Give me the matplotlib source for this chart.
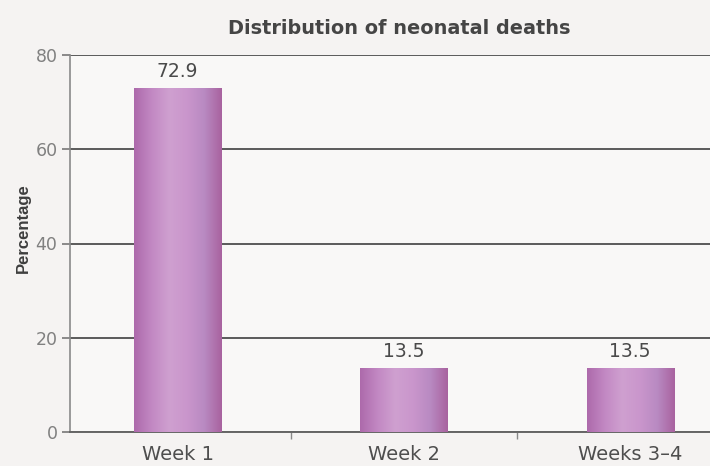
import numpy as np
import matplotlib
matplotlib.use("Agg")
import matplotlib.pyplot as plt
from matplotlib.colors import LinearSegmentedColormap
from matplotlib.ticker import FixedLocator

categories = ["Week 1", "Week 2", "Weeks 3\u20134"]
values = [72.9, 13.5, 13.5]
yticks = [0, 20, 40, 60, 80]
title = "Distribution of neonatal deaths"
ylabel = "Percentage"

plt.rcParams["font.family"] = ["DejaVu Sans"]

W, H = 710, 466
fig = plt.figure(figsize=(W / 100, H / 100), dpi=100)
fig.patch.set_facecolor("#f5f3f2")

left, right, bottom, top = 70, 710, 432, 55
ax = fig.add_axes([left / W, (H - bottom) / H, (right - left) / W, (bottom - top) / H])
ax.set_facecolor("#f9f8f7")

x = np.arange(len(categories))
bars = ax.bar(x, values, width=0.385, color="#c088c2", zorder=3, linewidth=0)

# soft cylinder-like shading across each bar
shade = LinearSegmentedColormap.from_list(
    "shade",
    ["#ad6aab", "#c288c3", "#cfa0d0", "#ca96cc", "#b98ac2", "#a8629f"],
)
grad = np.linspace(0, 1, 256).reshape(1, -1)
for b in bars:
    x0, y0 = b.get_x(), b.get_y()
    w, h = b.get_width(), b.get_height()
    im = ax.imshow(grad, extent=[x0, x0 + w, y0, y0 + h], cmap=shade,
                   aspect="auto", zorder=3.5, interpolation="bicubic")
    im.set_clip_path(b)

for xi, v in zip(x, values):
    ax.text(xi, v + 2.4, f"{v:.1f}", ha="center", va="baseline",
            fontsize=13.5, color="#4a4a4a", zorder=5)

ax.set_xlim(-0.476, 2.353)
ax.set_ylim(0, 80)
ax.set_yticks(yticks)
ax.set_yticklabels([str(t) for t in yticks], fontsize=12.5, color="#808080")
ax.set_xticks(x)
ax.set_xticklabels(categories, fontsize=14, color="#4e4e4e")
ax.tick_params(axis="x", length=0, pad=9)
ax.xaxis.set_minor_locator(FixedLocator([0.5, 1.5]))
ax.tick_params(axis="x", which="minor", length=5, color="#888888", width=1)
ax.tick_params(axis="y", length=6, color="#777777", width=1.2, pad=3)

ax.yaxis.grid(True, color="#5a5a5a", linewidth=1.4, zorder=1)
ax.set_axisbelow(True)

for s in ["top", "right"]:
    ax.spines[s].set_visible(False)
ax.spines["left"].set_color("#8a8a8a")
ax.spines["left"].set_linewidth(1.2)
ax.spines["bottom"].set_color("#666666")
ax.spines["bottom"].set_linewidth(1.4)

fig.text(23 / W, 1 - 228 / H, ylabel, rotation=90, ha="center", va="center",
         fontsize=12, fontweight="bold", color="#3e3e3e", family="Liberation Sans")
fig.text(399 / W, 1 - 28 / H, title, ha="center", va="center",
         fontsize=13.9, fontweight="bold", color="#454545")

fig.savefig("out.png", dpi=100, facecolor=fig.get_facecolor())
